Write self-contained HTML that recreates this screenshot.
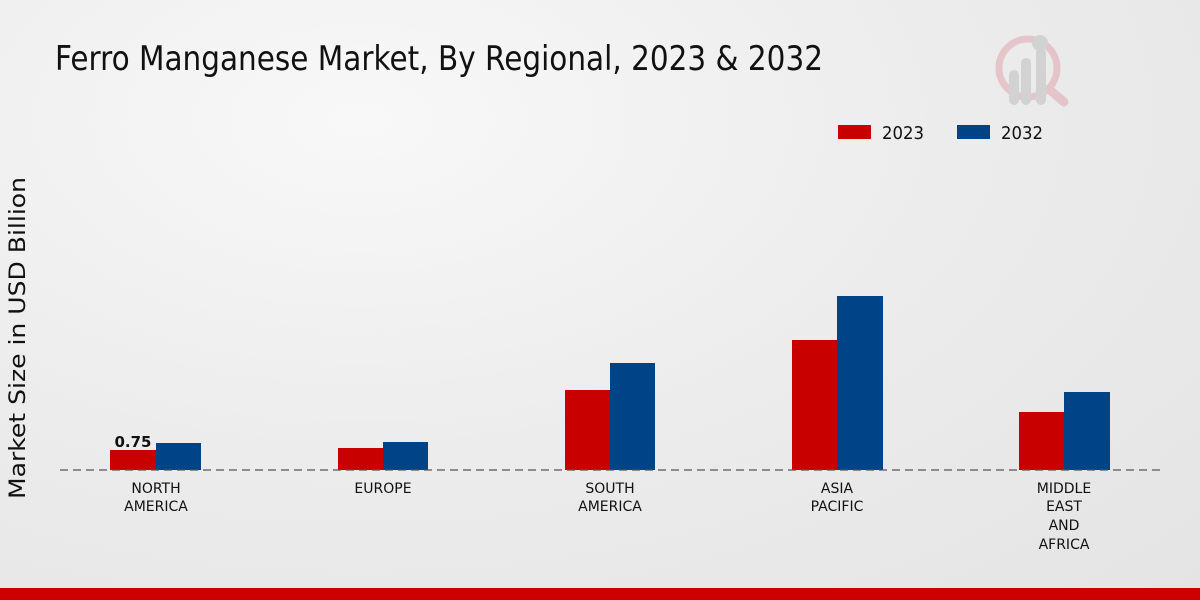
<!DOCTYPE html>
<html><head><style>
html,body{margin:0;padding:0}
body{width:1200px;height:600px;overflow:hidden;background:radial-gradient(ellipse at 30% 20%,#f8f8f8 0%,#ececec 50%,#e4e4e4 100%)}
</style></head><body>
<svg width="1200" height="600" xmlns="http://www.w3.org/2000/svg" style="position:absolute;left:0;top:0">
<g font-family="DejaVu Sans, Liberation Sans, sans-serif">
<text x="55" y="70" font-size="34" fill="#111" textLength="768" lengthAdjust="spacingAndGlyphs">Ferro Manganese Market, By Regional, 2023 &amp; 2032</text>
<!-- logo -->
<g opacity="0.5">
<circle cx="1028" cy="68" r="29" fill="none" stroke="#e0a0a8" stroke-width="7"/>
<line x1="1050" y1="90" x2="1064" y2="102" stroke="#e0a0a8" stroke-width="9" stroke-linecap="round"/>
<rect x="1009" y="70" width="10" height="35" rx="5" fill="#bbb"/>
<rect x="1021" y="58" width="10" height="47" rx="5" fill="#bbb"/>
<rect x="1036" y="48" width="10" height="57" rx="5" fill="#bbb"/>
<circle cx="1040" cy="43" r="8" fill="#bbb"/>
</g>
<!-- legend -->
<rect x="838" y="125" width="33" height="14" fill="#c80000"/>
<text x="882" y="139" font-size="18" fill="#111" textLength="42" lengthAdjust="spacingAndGlyphs">2023</text>
<rect x="957" y="125" width="33" height="14" fill="#004488"/>
<text x="1001" y="139" font-size="18" fill="#111" textLength="42" lengthAdjust="spacingAndGlyphs">2032</text>
<!-- y label -->
<text transform="translate(25,338) rotate(-90)" text-anchor="middle" font-size="22" fill="#111" textLength="322" lengthAdjust="spacingAndGlyphs">Market Size in USD Billion</text>
<!-- bars -->
<rect x="110" y="450" width="46" height="20" fill="#c80000"/>
<rect x="156" y="443" width="45" height="27" fill="#004488"/>
<rect x="338" y="448" width="45" height="22" fill="#c80000"/>
<rect x="383" y="442" width="45" height="28" fill="#004488"/>
<rect x="565" y="390" width="45" height="80" fill="#c80000"/>
<rect x="610" y="363" width="45" height="107" fill="#004488"/>
<rect x="792" y="340" width="45" height="130" fill="#c80000"/>
<rect x="837" y="296" width="46" height="174" fill="#004488"/>
<rect x="1019" y="412" width="45" height="58" fill="#c80000"/>
<rect x="1064" y="392" width="46" height="78" fill="#004488"/>
<line x1="60" y1="470" x2="1160" y2="470" stroke="#555" stroke-width="1.2" stroke-dasharray="8,5"/>
<text x="133" y="447" text-anchor="middle" font-size="15" font-weight="bold" fill="#111">0.75</text>
<g font-size="14" fill="#111" text-anchor="middle">
<text x="156" y="493">NORTH</text><text x="156" y="511">AMERICA</text>
<text x="383" y="493">EUROPE</text>
<text x="610" y="493">SOUTH</text><text x="610" y="511">AMERICA</text>
<text x="837" y="493">ASIA</text><text x="837" y="511">PACIFIC</text>
<text x="1064" y="493">MIDDLE</text><text x="1064" y="511">EAST</text><text x="1064" y="530">AND</text><text x="1064" y="549">AFRICA</text>
</g>
</g>
<rect x="0" y="588" width="1200" height="12" fill="#cc0000"/>
</svg>
</body></html>
